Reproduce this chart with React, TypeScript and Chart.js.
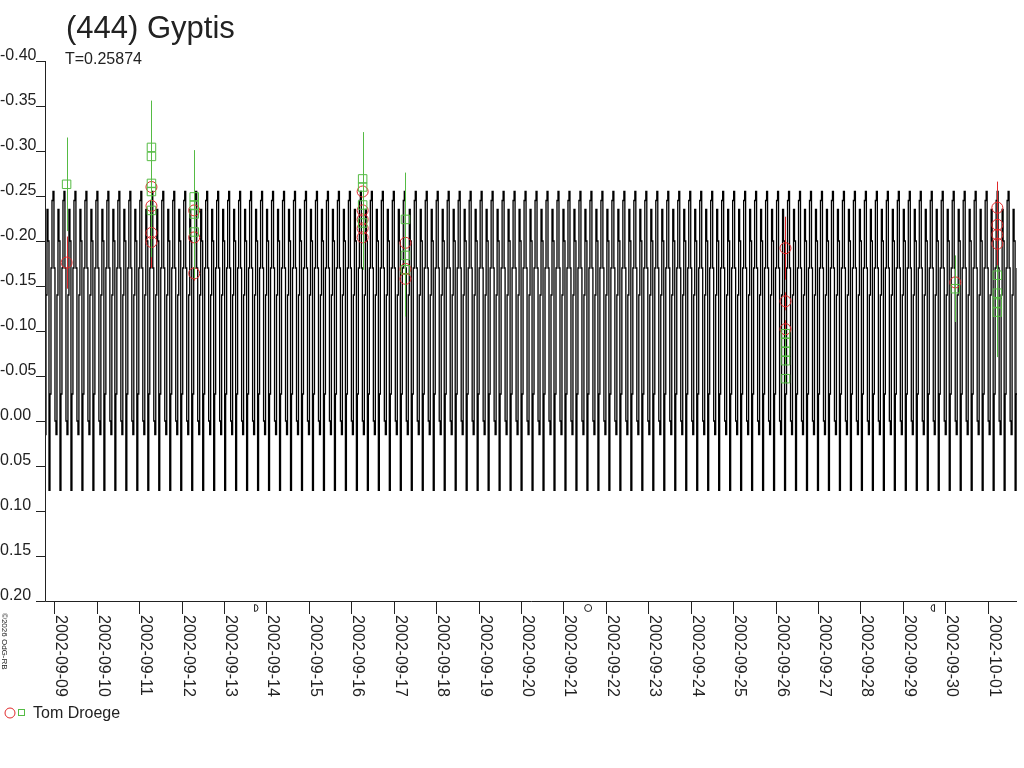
import { useEffect, useRef } from 'react';
import { Chart, registerables } from 'chart.js';

Chart.register(...registerables);

const title = '(444) Gyptis';
const periodLabel = 'T=0.25874';
const observer = 'Tom Droege';
const credit = '©2026 OdG-RB';

// time axis: days counted from 2002-09-09 00:00 UT
const xMin = -0.218;
const xMax = 22.69;
const dateLabels = [
  '2002-09-09', '2002-09-10', '2002-09-11', '2002-09-12', '2002-09-13', '2002-09-14',
  '2002-09-15', '2002-09-16', '2002-09-17', '2002-09-18', '2002-09-19', '2002-09-20',
  '2002-09-21', '2002-09-22', '2002-09-23', '2002-09-24', '2002-09-25', '2002-09-26',
  '2002-09-27', '2002-09-28', '2002-09-29', '2002-09-30', '2002-10-01',
];
const yTicks = [-0.4, -0.35, -0.3, -0.25, -0.2, -0.15, -0.1, -0.05, 0, 0.05, 0.1, 0.15, 0.2];

// moon phases (first quarter, full, last quarter)
const moonDays = [4.756, 12.583, 20.711];
const moonKinds = ['first', 'full', 'last'];

// model light curve: one period, starting at the primary minimum
const period = 0.25874;
const curveEpoch = -0.124;
const curveShape = [0.077, -0.03, -0.17, -0.245, -0.255, -0.17, 0.0, 0.015, -0.14, -0.235, -0.2];

// red circles
const redDays = [
  0.291,
  2.291, 2.291, 2.291, 2.291,
  3.299, 3.299, 3.299,
  7.268, 7.268, 7.268, 7.268, 7.268,
  8.277, 8.277, 8.277,
  17.233, 17.233, 17.233,
  21.236,
  22.227, 22.227, 22.227, 22.227,
];
const redMags = [
  -0.176,
  -0.26, -0.239, -0.209, -0.199,
  -0.234, -0.204, -0.164,
  -0.255, -0.234, -0.224, -0.214, -0.204,
  -0.198, -0.169, -0.158,
  -0.192, -0.133, -0.102,
  -0.154,
  -0.237, -0.218, -0.207, -0.197,
];
const redErrs = [
  0.029,
  0.029, 0.029, 0.029, 0.029,
  0.008, 0.008, 0.008,
  0.01, 0.01, 0.01, 0.01, 0.01,
  0.01, 0.01, 0.01,
  0.035, 0.01, 0.01,
  0.01,
  0.029, 0.029, 0.029, 0.029,
];

// green squares
const greenDays = [
  0.291,
  2.291, 2.291, 2.291, 2.291, 2.291,
  3.299, 3.299, 3.299, 3.299,
  7.268, 7.268, 7.268, 7.268,
  8.277, 8.277, 8.277,
  17.233, 17.233, 17.233, 17.233, 17.233,
  21.236,
  22.227, 22.227, 22.227, 22.227,
];
const greenMags = [
  -0.263,
  -0.304, -0.294, -0.264, -0.255, -0.234,
  -0.249, -0.24, -0.23, -0.21,
  -0.269, -0.26, -0.24, -0.22,
  -0.224, -0.184, -0.168,
  -0.097, -0.087, -0.077, -0.067, -0.047,
  -0.147,
  -0.162, -0.142, -0.131, -0.121,
];
const greenErrs = [
  0.052,
  0.052, 0.052, 0.052, 0.052, 0.052,
  0.052, 0.052, 0.052, 0.052,
  0.052, 0.052, 0.052, 0.052,
  0.052, 0.052, 0.052,
  0.005, 0.005, 0.005, 0.005, 0.005,
  0.037,
  0.011, 0.03, 0.035, 0.05,
];

const INK = '#222222';
const RED = '#e0282a';
const GREEN = '#55bb44';
const FONT = 'Liberation Sans, Arial, sans-serif';

// repeat the one-period shape over the time range
function buildCurve() {
  const pts: { x: number; y: number }[] = [];
  const n = curveShape.length;
  const kStart = Math.floor((xMin - curveEpoch) / period) - 1;
  const kEnd = Math.ceil((xMax - curveEpoch) / period) + 1;
  for (let k = kStart; k <= kEnd; k++) {
    for (let i = 0; i < n; i++) {
      pts.push({ x: curveEpoch + (k + i / n) * period, y: curveShape[i] });
    }
  }
  return pts;
}

const errorBars = {
  id: 'errorBars',
  beforeDatasetDraw(chart: any, args: any) {
    const ds = chart.data.datasets[args.index];
    if (!ds.errs) return;
    const xs = chart.scales.x;
    const ys = chart.scales.y;
    const ctx = chart.ctx;
    const area = chart.chartArea;
    ctx.save();
    ctx.beginPath();
    ctx.rect(area.left, area.top, area.right - area.left, area.bottom - area.top);
    ctx.clip();
    ctx.strokeStyle = ds.borderColor;
    ctx.lineWidth = 1;
    ds.data.forEach((p: { x: number; y: number }, i: number) => {
      const x = Math.round(xs.getPixelForValue(p.x)) + 0.5;
      ctx.beginPath();
      ctx.moveTo(x, ys.getPixelForValue(p.y - ds.errs[i]));
      ctx.lineTo(x, ys.getPixelForValue(p.y + ds.errs[i]));
      ctx.stroke();
    });
    ctx.restore();
  },
};

const frame = {
  id: 'frame',
  afterDraw(chart: any) {
    const ctx = chart.ctx as CanvasRenderingContext2D;
    const xs = chart.scales.x;
    const ys = chart.scales.y;
    const { left, right, top, bottom } = chart.chartArea;
    ctx.save();
    ctx.strokeStyle = INK;
    ctx.fillStyle = INK;
    ctx.lineWidth = 1;

    // axes
    ctx.beginPath();
    ctx.moveTo(left + 0.5, top);
    ctx.lineTo(left + 0.5, bottom + 0.5);
    ctx.lineTo(right, bottom + 0.5);
    ctx.stroke();

    // y ticks and labels
    ctx.font = `16px ${FONT}`;
    ctx.textAlign = 'left';
    ctx.textBaseline = 'alphabetic';
    yTicks.forEach((v) => {
      const y = Math.round(ys.getPixelForValue(v)) + 0.5;
      ctx.beginPath();
      ctx.moveTo(left - 9, y);
      ctx.lineTo(left + 0.5, y);
      ctx.stroke();
      ctx.fillText(v.toFixed(2), 0, y - 1.5);
    });

    // x ticks and rotated date labels
    dateLabels.forEach((label, d) => {
      const x = Math.round(xs.getPixelForValue(d)) + 0.5;
      ctx.beginPath();
      ctx.moveTo(x, bottom);
      ctx.lineTo(x, bottom + 13);
      ctx.stroke();
      ctx.save();
      ctx.translate(x + 1, bottom + 14);
      ctx.rotate(Math.PI / 2);
      ctx.fillText(label, 0, 0);
      ctx.restore();
    });

    // moon phase symbols
    moonDays.forEach((d, i) => {
      const x = xs.getPixelForValue(d);
      const y = bottom + 7;
      const r = 3.5;
      ctx.beginPath();
      if (moonKinds[i] === 'full') {
        ctx.arc(x, y, r, 0, Math.PI * 2);
      } else if (moonKinds[i] === 'first') {
        ctx.moveTo(x - 1.5, y - r);
        ctx.lineTo(x - 1.5, y + r);
        ctx.arc(x - 1.5, y, r, Math.PI / 2, -Math.PI / 2, true);
      } else {
        ctx.moveTo(x + 1.5, y - r);
        ctx.lineTo(x + 1.5, y + r);
        ctx.arc(x + 1.5, y, r, Math.PI / 2, -Math.PI / 2, false);
      }
      ctx.stroke();
    });

    // title and period
    ctx.font = `31px ${FONT}`;
    ctx.fillText(title, 66, 38);
    ctx.font = `16px ${FONT}`;
    ctx.fillText(periodLabel, 65, 64);

    // legend
    ctx.strokeStyle = RED;
    ctx.beginPath();
    ctx.arc(10, 713, 5, 0, Math.PI * 2);
    ctx.stroke();
    ctx.strokeStyle = GREEN;
    ctx.strokeRect(18.5, 709.5, 6, 6);
    ctx.fillText(observer, 33, 718);

    // credit
    ctx.save();
    ctx.font = `8px ${FONT}`;
    ctx.translate(2, 613);
    ctx.rotate(Math.PI / 2);
    ctx.fillText(credit, 0, 0);
    ctx.restore();

    ctx.restore();
  },
};

export default function App() {
  const canvasRef = useRef<HTMLCanvasElement | null>(null);

  useEffect(() => {
    if (!canvasRef.current) return;
    const chart = new Chart(canvasRef.current, {
      type: 'scatter',
      data: {
        datasets: [
          {
            type: 'line',
            data: buildCurve(),
            borderColor: '#000000',
            borderWidth: 1.3,
            pointRadius: 0,
            stepped: 'before',
            order: 2,
          } as any,
          {
            data: redDays.map((d, i) => ({ x: d, y: redMags[i] })),
            errs: redErrs,
            pointStyle: 'circle',
            pointRadius: 5.5,
            borderColor: RED,
            backgroundColor: 'rgba(0,0,0,0)',
            borderWidth: 1,
            order: 1,
          } as any,
          {
            data: greenDays.map((d, i) => ({ x: d, y: greenMags[i] })),
            errs: greenErrs,
            pointStyle: 'rect',
            pointRadius: 6,
            borderColor: GREEN,
            backgroundColor: 'rgba(0,0,0,0)',
            borderWidth: 1,
            order: 0,
          } as any,
        ],
      },
      options: {
        animation: false,
        responsive: false,
        devicePixelRatio: 1,
        layout: { padding: { left: 45, top: 61, right: 2, bottom: 167 } },
        plugins: { legend: { display: false }, tooltip: { enabled: false } },
        events: [],
        scales: {
          x: { type: 'linear', min: xMin, max: xMax, display: false },
          y: { type: 'linear', min: -0.4, max: 0.2, reverse: true, display: false },
        },
      },
      plugins: [errorBars, frame],
    });
    return () => chart.destroy();
  }, []);

  return (
    <div style={{ position: 'fixed', left: 0, top: 0, width: 1024, height: 768, background: '#fff' }}>
      <canvas ref={canvasRef} width={1024} height={768} style={{ display: 'block' }} />
    </div>
  );
}
